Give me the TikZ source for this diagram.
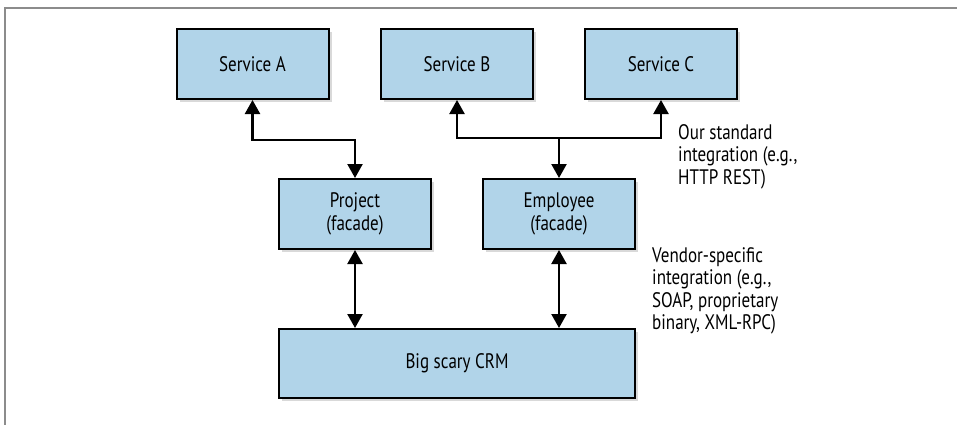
\documentclass[tikz,border=0pt]{standalone}
\usepackage{fontspec}
\setmainfont{PT Sans}[FakeStretch=0.81]
\usepackage{tikz}
\usetikzlibrary{arrows.meta,positioning,calc,shadows}
\definecolor{boxblue}{RGB}{177,212,233}
\definecolor{framegray}{RGB}{140,140,140}
\tikzstyle{svcbox}=[draw=black, line width=2pt, fill=boxblue, minimum width=152pt, minimum height=70pt, inner sep=0pt, align=center, drop shadow={shadow xshift=3pt, shadow yshift=-3pt, opacity=0.3}]
\tikzstyle{link}=[line width=2.3pt, >={Triangle[width=15pt,length=14pt]}, <->]
\tikzstyle{note}=[anchor=north west, align=left, inner sep=0pt]

\begin{document}
\begin{tikzpicture}[x=1pt, y=-1pt, font=\fontsize{21}{22.5}\selectfont]
	\useasboundingbox (0,0) rectangle (957,425);
	\draw[framegray, line width=1.2pt] (5,425) -- (5,8) -- (957,8);

	\node[svcbox] (svca) at (252.5,64) {Service A};
	\node[svcbox] (svcb) at (457,64) {Service B};
	\node[svcbox] (svcc) at (661,64) {Service C};

	\node[svcbox] (project) at (355,214) {Project\\(facade)};
	\node[svcbox] (employee) at (559,214) {Employee\\(facade)};

	\node[svcbox, minimum width=356pt, minimum height=69pt] (crm) at (457,363.5) {Big scary CRM};

	\coordinate (hub) at ($(employee.north)+(0,-40)$);

	\draw[link] (svca.south) -- ++(0,40) -| (project.north);
	\draw[link] (svcb.south) |- (hub) -| (svcc.south);
	\draw[link, ->] (hub) -- (employee.north);
	\draw[link] (project.south) -- (project.south |- crm.north);
	\draw[link] (employee.south) -- (employee.south |- crm.north);

	\node[note] (stdnote) at (678,124) {Our standard\\integration (e.g.,\\HTTP REST)};
	\node[note] (vendornote) at (652,247) {Vendor-specific\\integration (e.g.,\\SOAP, proprietary\\binary, XML-RPC)};
\end{tikzpicture}
\end{document}
